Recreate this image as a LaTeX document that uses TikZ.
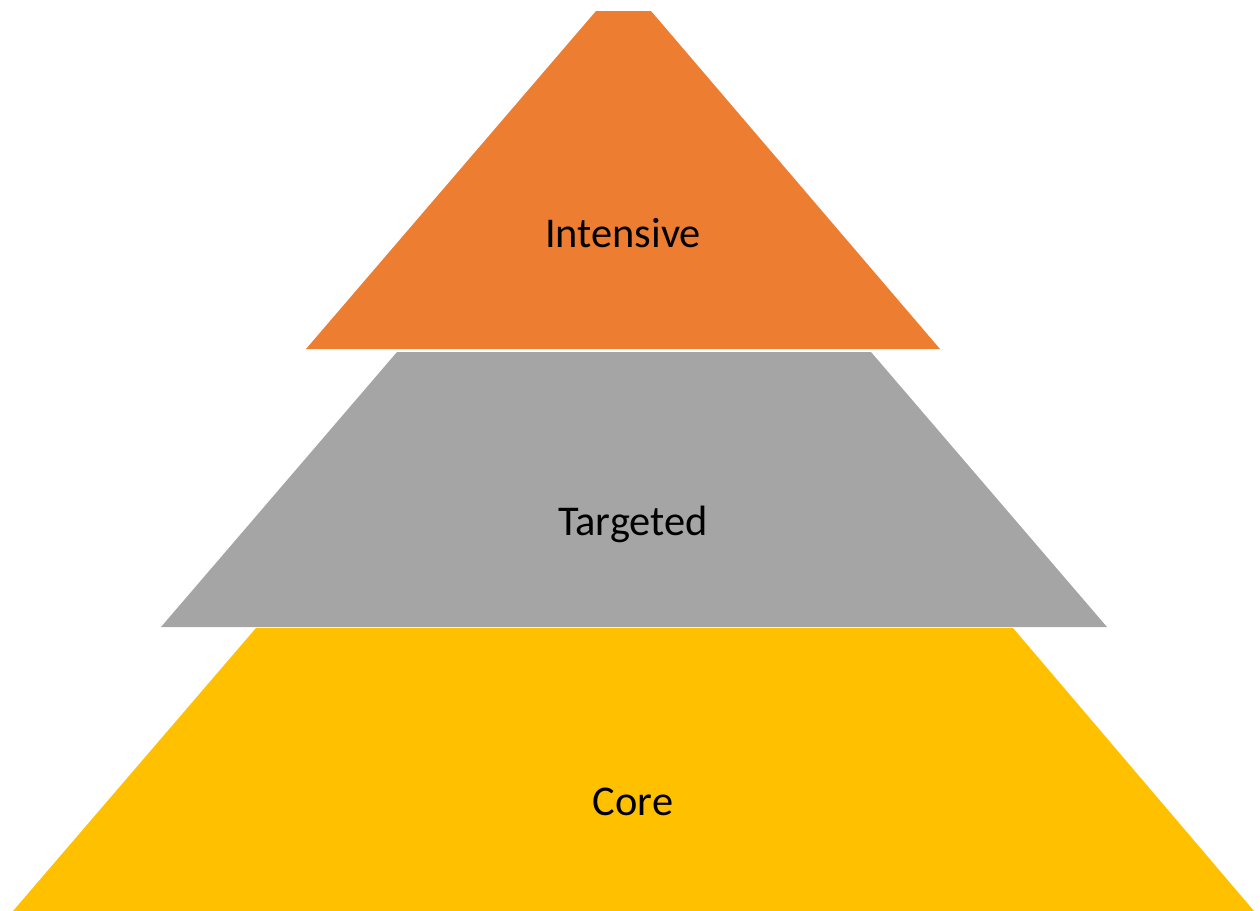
\documentclass[tikz,border=0pt]{standalone}
\usepackage{fontspec}
\setmainfont{Carlito}
\usepackage{tikz}
\definecolor{tierorange}{RGB}{237,125,49}
\definecolor{tiergray}{RGB}{165,165,165}
\definecolor{tiergold}{RGB}{255,192,0}

\begin{document}
\begin{tikzpicture}[x=0.5pt, y=-0.5pt]
    \useasboundingbox (0,0) rectangle (1260,911);

    % Core tier
    \fill[tiergold] (256,628) -- (1013,628) -- (1254,911) -- (13,911) -- cycle;
    \node[font=\fontsize{21.2}{24}\selectfont] (core) at (633,802) {Core};

    % Targeted tier
    \fill[tiergray] (397,352) -- (871,352) -- (1107,627) -- (161,627) -- cycle;
    \node[font=\fontsize{21.2}{24}\selectfont] (targeted) at (633,524) {Targeted};

    % Intensive tier
    \fill[tierorange] (596,11) -- (651,11) -- (940,349) -- (306,349) -- cycle;
    \node[font=\fontsize{21.2}{24}\selectfont] (intensive) at (623,233) {Intensive};
\end{tikzpicture}
\end{document}
